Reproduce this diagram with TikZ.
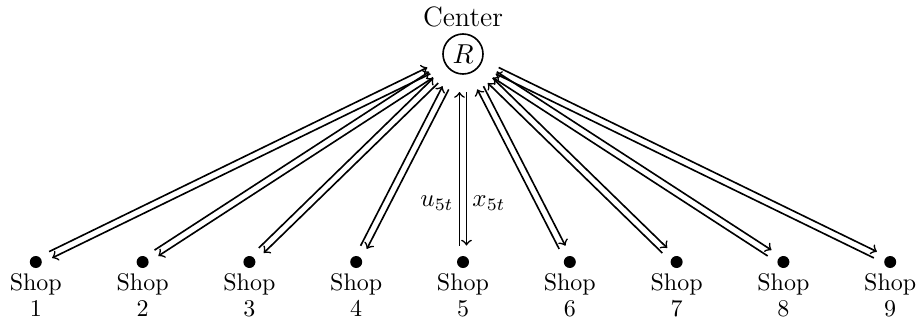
\documentclass[tikz,border=0pt]{standalone}
\usetikzlibrary{calc}
\begin{document}
\begin{tikzpicture}[x=0.4pt,y=0.4pt,line width=0.65pt,
  shopdot/.style={circle,fill,inner sep=0pt,minimum size=4.8pt},
  shoptext/.style={font=\fontsize{9.6}{10.8}\selectfont,anchor=base,inner sep=0pt},
  centerbox/.style={circle,draw,minimum size=16pt,inner sep=0pt,font=\fontsize{10.8}{12}\selectfont},
  flowline/.style={->,shorten <=6.6pt,shorten >=15.2pt},
  flowlineback/.style={<-,shorten <=6.6pt,shorten >=15.2pt},
  flowlabel/.style={inner sep=0pt,font=\fontsize{10}{12}\selectfont}]
\useasboundingbox (0,0) rectangle (919,322);
\node[centerbox] (R) at (463,268) {$R$};
\node[anchor=base,inner sep=0pt,font=\fontsize{11.2}{13}\selectfont] (ctext) at (463,295.3) {Center};
\foreach \i in {1,...,9} {
  \pgfmathsetmacro\xx{463+(\i-5)*106.8}
  \node[shopdot] (s\i) at (\xx,60) {};
  \node[shoptext] (n\i) at (\xx,32) {Shop};
  \node[shoptext] (d\i) at (\xx,5.3) {\i};
  \draw[flowline] ($(s\i.center)!1.4pt!90:(R.center)$) -- ($(R.center)!1.4pt!-90:(s\i.center)$);
  \draw[flowlineback] ($(s\i.center)!1.4pt!-90:(R.center)$) -- ($(R.center)!1.4pt!90:(s\i.center)$);
}
\node[flowlabel] (u5) at (437,119) {$u_{5t}$};
\node[flowlabel] (x5) at (489,119) {$x_{5t}$};
\end{tikzpicture}
\end{document}
